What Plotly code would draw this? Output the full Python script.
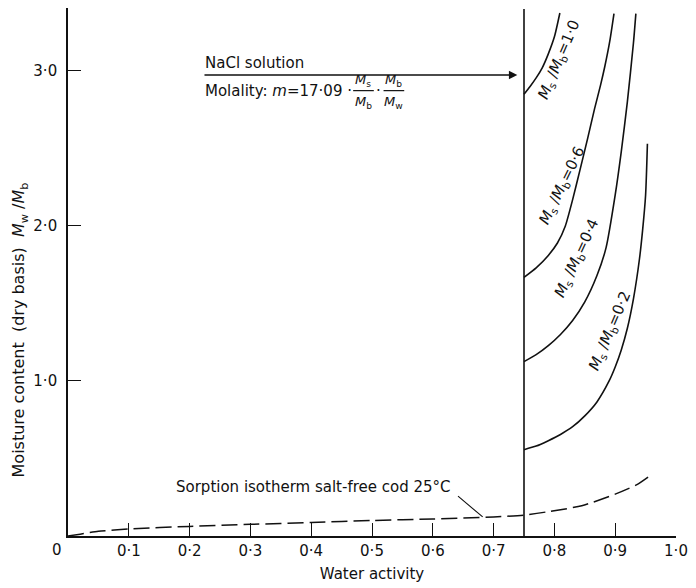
import plotly.graph_objects as go

# ---- data ----
aw_iso = [0, 0.02, 0.05, 0.1, 0.2, 0.3, 0.4, 0.5, 0.6, 0.7, 0.75, 0.79, 0.845, 0.9, 0.935, 0.961]
mc_iso = [0, 0.012, 0.03, 0.045, 0.062, 0.075, 0.087, 0.10, 0.11, 0.123, 0.135, 0.157, 0.195, 0.27, 0.33, 0.40]

aw_02 = [0.75, 0.77, 0.79, 0.81, 0.83, 0.85, 0.87, 0.89, 0.90, 0.91, 0.92, 0.93, 0.94, 0.945, 0.95, 0.953]
mc_02 = [0.557, 0.58, 0.615, 0.655, 0.705, 0.775, 0.865, 1.0, 1.09, 1.2, 1.34, 1.53, 1.79, 1.97, 2.2, 2.53]

aw_04 = [0.75, 0.77, 0.79, 0.81, 0.83, 0.85, 0.87, 0.885, 0.90, 0.91, 0.92, 0.93, 0.934]
mc_04 = [1.125, 1.17, 1.228, 1.30, 1.39, 1.51, 1.68, 1.86, 2.2, 2.48, 2.8, 3.18, 3.37]

aw_06 = [0.75, 0.77, 0.79, 0.805, 0.818, 0.83, 0.842, 0.855, 0.866, 0.876, 0.883, 0.891, 0.898]
mc_06 = [1.669, 1.73, 1.81, 1.89, 2.0, 2.17, 2.36, 2.57, 2.755, 2.91, 3.03, 3.19, 3.37]

aw_10 = [0.75, 0.76, 0.77, 0.78, 0.79, 0.80, 0.809]
mc_10 = [2.85, 2.90, 2.955, 3.02, 3.11, 3.22, 3.374]

aw_nacl = [0.75, 0.75]
mc_nacl = [0, 3.40]

x_ticks = [0.1, 0.2, 0.3, 0.4, 0.5, 0.6, 0.7, 0.8, 0.9, 1.0]
x_ticktext = ["0·1", "0·2", "0·3", "0·4", "0·5", "0·6", "0·7", "0·8", "0·9", "1·0"]
y_ticks = [1.0, 2.0, 3.0]
y_ticktext = ["1·0", "2·0", "3·0"]

FONT = "DejaVu Sans"
BLACK = "#111111"
FS = 15

fig = go.Figure()
solid = dict(color=BLACK, width=1.6)
fig.add_trace(go.Scatter(x=aw_iso, y=mc_iso, mode="lines",
                         line=dict(color=BLACK, width=1.5, dash="16px,6px", shape="spline", smoothing=0.6)))
for xs, ys in [(aw_02, mc_02), (aw_04, mc_04), (aw_06, mc_06), (aw_10, mc_10)]:
    fig.add_trace(go.Scatter(x=xs, y=ys, mode="lines", line=dict(solid, shape="spline", smoothing=0.6)))
fig.add_trace(go.Scatter(x=aw_nacl, y=mc_nacl, mode="lines", line=solid))

fig.update_layout(
    width=696, height=588,
    margin=dict(l=68, r=14, t=8, b=52),
    paper_bgcolor="white", plot_bgcolor="white",
    showlegend=False,
    font=dict(family=FONT, size=FS, color=BLACK),
)
fig.update_xaxes(
    range=[0, 1.0], showgrid=False, zeroline=False,
    showline=True, linecolor=BLACK, linewidth=1.6,
    tickmode="array", tickvals=x_ticks, ticktext=x_ticktext,
    ticks="inside", ticklen=13, tickwidth=1.4, tickcolor=BLACK,
    tickfont=dict(family=FONT, size=FS),
    title=dict(text="Water activity", font=dict(family=FONT, size=FS), standoff=10),
)
fig.update_yaxes(
    range=[0, 3.406], showgrid=False, zeroline=False,
    showline=True, linecolor=BLACK, linewidth=1.6,
    tickmode="array", tickvals=y_ticks, ticktext=y_ticktext,
    ticks="inside", ticklen=13, tickwidth=1.4, tickcolor=BLACK,
    tickfont=dict(family=FONT, size=FS), ticklabelstandoff=6,
)

ann = []
# y-axis title (placed lower than plot centre, as in the reference)
ann.append(dict(x=-0.08, y=0.39, xref="paper", yref="paper", showarrow=False, textangle=-90,
                text="Moisture content  (dry basis)  <i>M</i><sub>w</sub> /<i>M</i><sub>b</sub>",
                xanchor="center", yanchor="middle", font=dict(size=FS + 1)))
# origin label
ann.append(dict(x=0, y=0, xref="x", yref="y", text="0", showarrow=False,
                xanchor="center", yanchor="top", xshift=-11, yshift=-3, font=dict(size=FS)))
# NaCl arrow and text
ann.append(dict(x=0.739, y=2.974, ax=0.222, ay=2.974, xref="x", yref="y", axref="x", ayref="y",
                text="", showarrow=True, arrowhead=2, arrowsize=1.2, arrowwidth=1.4, arrowcolor=BLACK))
ann.append(dict(x=0.222, y=2.974, xref="x", yref="y", text="NaCl solution", showarrow=False,
                xanchor="left", yanchor="bottom", yshift=1, font=dict(size=FS)))
ann.append(dict(x=0.222, y=2.873, xref="x", yref="y", text="Molality: <i>m</i>=17·09 ·", showarrow=False,
                xanchor="left", yanchor="middle", font=dict(size=FS)))
# fractions
FR = [0.486, 0.536]
for xf, num, den in [(FR[0], "<i>M</i><sub>s</sub>", "<i>M</i><sub>b</sub>"),
                     (FR[1], "<i>M</i><sub>b</sub>", "<i>M</i><sub>w</sub>")]:
    ann.append(dict(x=xf, y=2.873, xref="x", yref="y", text=num, showarrow=False,
                    xanchor="center", yanchor="bottom", yshift=0, font=dict(size=13)))
    ann.append(dict(x=xf, y=2.873, xref="x", yref="y", text=den, showarrow=False,
                    xanchor="center", yanchor="top", yshift=-1, font=dict(size=13)))
ann.append(dict(x=0.511, y=2.873, xref="x", yref="y", text="·", showarrow=False,
                xanchor="center", yanchor="middle", font=dict(size=FS)))
shapes = []
for xf in FR:
    shapes.append(dict(type="line", xref="x", yref="y", x0=xf - 0.017, x1=xf + 0.017, y0=2.873, y1=2.873,
                       line=dict(color=BLACK, width=1.2)))

# curve labels
for (x, y, txt, ang) in [(0.807, 3.07, "1·0", -67), (0.813, 2.26, "0·6", -64),
                         (0.837, 1.79, "0·4", -65), (0.891, 1.32, "0·2", -67)]:
    ann.append(dict(x=x, y=y, xref="x", yref="y", showarrow=False, textangle=ang,
                    text=f"<i>M</i><sub>s</sub> /<i>M</i><sub>b</sub>={txt}", font=dict(size=FS)))

# sorption isotherm label with leader
ann.append(dict(x=0.682, y=0.123, ax=0.639, ay=0.265, xref="x", yref="y", axref="x", ayref="y",
                text="", showarrow=True, arrowhead=0, arrowwidth=1.1, arrowcolor=BLACK))
ann.append(dict(x=0.634, y=0.316, xref="x", yref="y", text="Sorption isotherm salt-free cod 25°C",
                showarrow=False, xanchor="right", yanchor="middle", font=dict(size=FS)))

fig.update_layout(annotations=ann, shapes=shapes)
fig.write_html("out.html")
